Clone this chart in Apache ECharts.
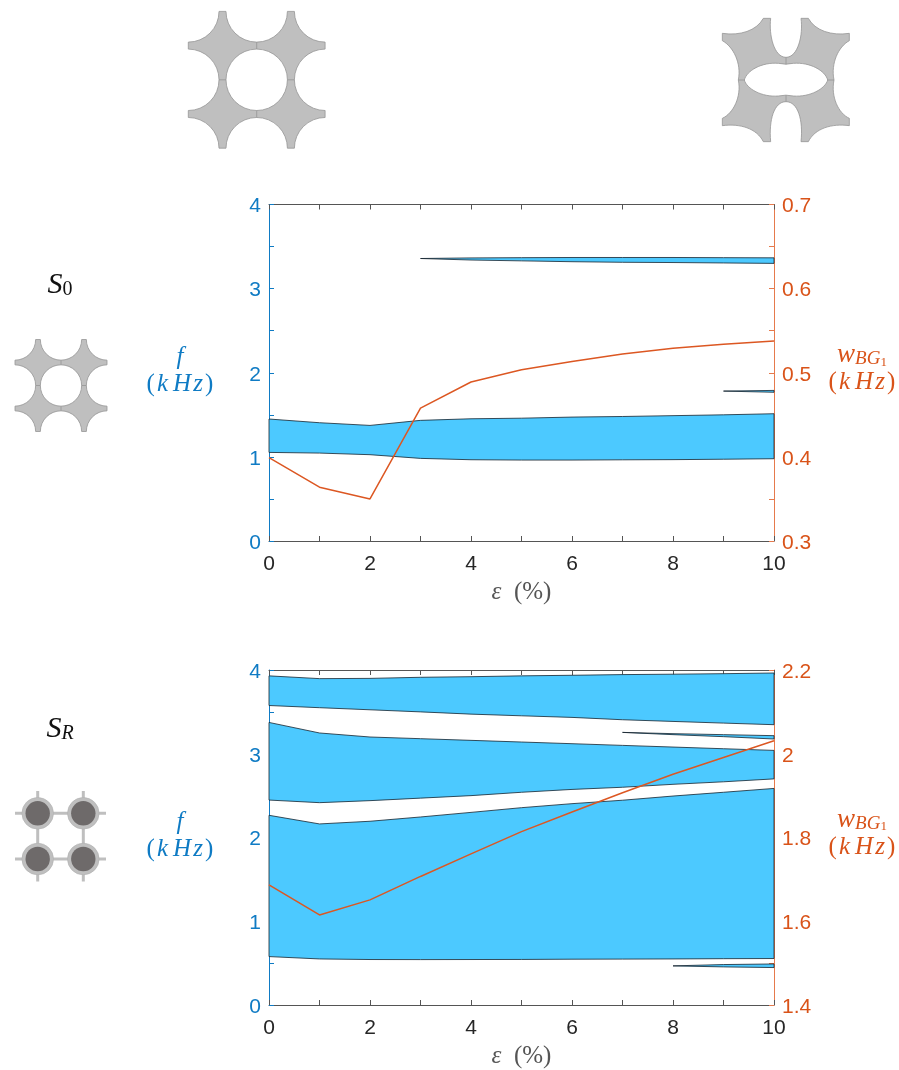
<!DOCTYPE html>
<html><head><meta charset="utf-8">
<style>html,body{margin:0;padding:0;background:#fff}#c{width:899px;height:1070px}</style>
<script src="https://cdn.jsdelivr.net/npm/echarts@6/dist/echarts.min.js"></script>
</head><body><div id="c"></div>
<script>
// ---- data ----
const strain = [0,1,2,3,4,5,6,7,8,9,10];

const s0MainLow  = [1.053,1.045,1.026,0.982,0.966,0.962,0.962,0.965,0.967,0.972,0.978];
const s0MainHigh = [1.45,1.406,1.374,1.434,1.453,1.46,1.473,1.48,1.49,1.50,1.513];
const s0TopX    = [3,4,5,6,7,8,9,10];
const s0TopLow  = [3.358,3.34,3.33,3.32,3.313,3.31,3.305,3.30];
const s0TopHigh = [3.358,3.365,3.368,3.37,3.37,3.37,3.368,3.366];
const s0MidX    = [9,10];
const s0MidLow  = [1.782,1.768];
const s0MidHigh = [1.782,1.79];
const s0Width   = [0.399,0.364,0.35,0.458,0.489,0.5036,0.5135,0.5222,0.529,0.534,0.5376];

const srBandALow  = [0.578,0.55,0.543,0.542,0.543,0.544,0.547,0.548,0.55,0.553,0.555];
const srBandAHigh = [2.265,2.162,2.194,2.245,2.30,2.356,2.404,2.445,2.495,2.54,2.586];
const srBandBLow  = [2.447,2.416,2.44,2.47,2.50,2.54,2.574,2.60,2.635,2.665,2.70];
const srBandBHigh = [3.374,3.248,3.2,3.18,3.16,3.14,3.12,3.10,3.08,3.06,3.04];
const srBandCLow  = [3.576,3.55,3.525,3.50,3.473,3.453,3.434,3.406,3.386,3.366,3.347];
const srBandCHigh = [3.93,3.897,3.90,3.913,3.92,3.93,3.937,3.945,3.95,3.956,3.964];
const srThinUpX    = [7,8,9,10];
const srThinUpLow  = [3.255,3.228,3.204,3.176];
const srThinUpHigh = [3.255,3.24,3.228,3.216];
const srThinLowX    = [8,9,10];
const srThinLowLow  = [0.467,0.455,0.447];
const srThinLowHigh = [0.467,0.483,0.49];
const srWidth = [1.687,1.615,1.651,1.707,1.761,1.814,1.861,1.907,1.951,1.991,2.031];

// ---- style ----
const BLUE='#0f7bc4', ORANGE='#d95319', BAND='#4cc9ff', EDGE='#15232e';
const SERIF='"Liberation Serif","DejaVu Serif",serif', SANS='"Liberation Sans",Arial,sans-serif';

function bandSeries(xs, lows, highs, g){
  return {
    type:'custom', xAxisIndex:g*2, yAxisIndex:g*2, z:2, silent:true, clip:false,
    encode:{x:0,y:[1,2]},
    data:xs.map((x,i)=>[x,lows[i],highs[i]]),
    renderItem(params, api){
      if(params.dataIndexInside!==xs.length-1) return null;
      const pts=[];
      xs.forEach((x,i)=>pts.push(api.coord([x,highs[i]])));
      for(let i=xs.length-1;i>=0;i--) pts.push(api.coord([xs[i],lows[i]]));
      return {type:'polygon',shape:{points:pts},style:{fill:BAND,stroke:EDGE,lineWidth:0.8}};
    }
  };
}
function widthSeries(vals,g){
  return {type:'line',xAxisIndex:g*2,yAxisIndex:g*2+1,z:5,data:strain.map((x,i)=>[x,vals[i]]),
    showSymbol:false,symbol:'none',lineStyle:{color:'#dc5722',width:1.5},silent:true};
}
const KHZ='{p|(}{k|\u200ak\u2009H\u200az\u200a}{p|)}';
const fRich={f:{fontFamily:SERIF,fontStyle:'italic',fontSize:25,color:BLUE,lineHeight:27,align:'center'},
  p:{fontFamily:SERIF,fontSize:25,color:BLUE,lineHeight:27},
  k:{fontFamily:SERIF,fontStyle:'italic',fontSize:25,color:BLUE,lineHeight:27}};
const wRich={w:{fontFamily:SERIF,fontStyle:'italic',fontSize:27,color:ORANGE,lineHeight:27},
  b:{fontFamily:SERIF,fontStyle:'italic',fontSize:19,color:ORANGE,lineHeight:22,verticalAlign:'bottom'},
  o:{fontFamily:SERIF,fontSize:13,color:ORANGE,lineHeight:18,verticalAlign:'bottom'},
  p:{fontFamily:SERIF,fontSize:25,color:ORANGE,lineHeight:27},
  k:{fontFamily:SERIF,fontStyle:'italic',fontSize:25,color:ORANGE,lineHeight:27}};
const eRich={e:{fontFamily:SERIF,fontStyle:'italic',fontSize:25,color:'#555'},
  p:{fontFamily:SERIF,fontSize:25,color:'#555'}};
const tick=c=>({t:{color:c,fontFamily:SANS,fontSize:21,padding:[4,0,0,0]}});

function xAxes(g){
  const base={type:'value',gridIndex:g,min:0,max:10,interval:1,splitLine:{show:false},
    axisLine:{onZero:false,lineStyle:{color:'#555',width:1}},
    axisTick:{inside:true,length:5,lineStyle:{color:'#555',width:1}}};
  return [
    Object.assign({},base,{position:'bottom',name:'{e|\u03b5}{p|\u2002(%)}',nameLocation:'middle',nameGap:39,
      nameTextStyle:{rich:eRich},
      axisLabel:{color:'#262626',fontFamily:SANS,fontSize:21,margin:13,hideOverlap:false,
        formatter:v=>v%2===0?String(v):''}}),
    Object.assign({},base,{position:'top',axisLabel:{show:false}})
  ];
}
function yAxes(g,rmin,rmax,rint,rfmt){
  return [
    {type:'value',gridIndex:g,position:'left',min:0,max:4,interval:0.5,splitLine:{show:false},
     axisLine:{onZero:false,lineStyle:{color:BLUE,width:1}},
     axisTick:{inside:true,length:5,lineStyle:{color:BLUE,width:1}},
     axisLabel:{margin:8,rich:tick(BLUE),formatter:v=>Number.isInteger(v)?'{t|'+v+'}':''},
     name:'{f|f}\n'+KHZ,nameLocation:'middle',nameRotate:0,nameGap:89,
     nameTextStyle:{rich:fRich,align:'center',verticalAlign:'middle',padding:[0,0,4,0]}},
    {type:'value',gridIndex:g,position:'right',min:rmin,max:rmax,interval:rint,splitLine:{show:false},
     axisLine:{onZero:false,lineStyle:{color:'#e67a4c',width:1}},
     axisTick:{inside:true,length:5,lineStyle:{color:'#e67a4c',width:1}},
     axisLabel:{margin:8,rich:tick(ORANGE),formatter:v=>{const s=rfmt(v);return s?'{t|'+s+'}':'';}},
     name:'{w|w}{b|BG}{o|1}\n'+KHZ,nameLocation:'middle',nameRotate:0,nameGap:88,
     nameTextStyle:{rich:wRich,align:'center',verticalAlign:'middle',padding:[0,0,8,0]}}
  ];
}

// ---- decorative unit-cell sketches ----
const GREY='#bfbfbf', OUT='#969696';
let shapeCount=0;
function pathEl(d,style){
  const name='cellShape'+(shapeCount++);
  echarts.graphic.registerShape(name, echarts.graphic.extendPath(d,{}));
  return {type:name,shape:{},style,silent:true};
}
function starCell(cx,cy,h){
  const r=0.449*h, P=(x,y)=>(cx+x*h).toFixed(2)+' '+(cy+y*h).toFixed(2), R=r.toFixed(2);
  const a=r/h, A=(x,y)=>`A${R} ${R} 0 0 0 ${P(x,y)}`;
  const d=`M${P(-1+a,-1)}L${P(-a,-1)}${A(a,-1)}L${P(1-a,-1)}${A(1,-1+a)}L${P(1,-a)}${A(1,a)}L${P(1,1-a)}${A(1-a,1)}`+
    `L${P(a,1)}${A(-a,1)}L${P(-1+a,1)}${A(-1,1-a)}L${P(-1,a)}${A(-1,-a)}L${P(-1,-1+a)}${A(-1+a,-1)}Z`;
  const ln=(x1,y1,x2,y2)=>({type:'line',shape:{x1:cx+x1*h,y1:cy+y1*h,x2:cx+x2*h,y2:cy+y2*h},style:{stroke:OUT,lineWidth:0.8},silent:true});
  return [
    pathEl(d,{fill:GREY,stroke:OUT,lineWidth:0.8}),
    {type:'circle',shape:{cx,cy,r},style:{fill:'#fff',stroke:OUT,lineWidth:0.8},silent:true},
    ln(0,-1+a,0,-a),ln(0,a,0,1-a),ln(-1+a,0,-a,0),ln(a,0,1-a,0)
  ];
}
function deformedCell(){
  const x0=710,s=1/3;
  const T=str=>str.replace(/(-?\d+(?:\.\d+)?),(-?\d+(?:\.\d+)?)/g,(m,a,b)=>(x0+a*s).toFixed(2)+' '+(b*s).toFixed(2));
  const o=T('M160,55 L182,55 C176,105 192,172 228,172 C264,172 280,105 273,55 L295,55 C315,92 365,108 418,100 L418,122 C385,140 362,190 372,240 C362,290 385,340 418,355 L418,377 C365,370 315,385 295,425 L273,425 C280,360 264,305 228,305 C192,305 176,360 182,425 L160,425 C140,385 90,370 37,377 L37,355 C70,340 95,290 85,240 C95,190 70,140 37,122 L37,100 C90,108 140,92 160,55 Z');
  const h=T('M103,240 C110,212 155,186 205,190 Q228,195 250,190 C300,186 346,212 353,240 C346,266 300,292 250,288 Q228,283 205,288 C155,292 110,266 103,240 Z');
  const ln=(a,b,c,d)=>({type:'line',shape:{x1:x0+a*s,y1:b*s,x2:x0+c*s,y2:d*s},style:{stroke:OUT,lineWidth:0.8},silent:true});
  return [
    pathEl(o,{fill:GREY,stroke:OUT,lineWidth:0.8}),
    pathEl(h,{fill:'#fff',stroke:OUT,lineWidth:0.8}),
    ln(228,172,228,193),ln(228,285,228,305),ln(85,240,103,240),ln(353,240,372,240)
  ];
}
function resonatorCell(){
  const xs=[37.7,83.3], ys=[813.3,859], els=[];
  const stub=(x1,y1,x2,y2)=>({type:'line',shape:{x1,y1,x2,y2},style:{stroke:GREY,lineWidth:3},silent:true});
  ys.forEach(y=>els.push(stub(15,y,106,y)));
  xs.forEach(x=>els.push(stub(x,791,x,881.5)));
  xs.forEach(x=>ys.forEach(y=>{
    els.push({type:'circle',shape:{cx:x,cy:y,r:15.8},style:{fill:GREY,stroke:'#b0b0b0',lineWidth:0.6},silent:true});
    els.push({type:'circle',shape:{cx:x,cy:y,r:12.2},style:{fill:'#6e6a6a'},silent:true});
  }));
  return els;
}
const sRich={s:{fontFamily:SERIF,fontStyle:'italic',fontSize:30,fill:'#111',lineHeight:30},
  u:{fontFamily:SERIF,fontSize:20,fill:'#111',lineHeight:24,verticalAlign:'bottom',padding:[8,0,0,0]},
  i:{fontFamily:SERIF,fontStyle:'italic',fontSize:20,fill:'#111',lineHeight:24,verticalAlign:'bottom',padding:[8,0,0,0]}};
const labels=[
  {type:'text',x:60,y:285,style:{text:'{s|S}{u|0}',rich:sRich,align:'center',verticalAlign:'middle'},silent:true},
  {type:'text',x:60,y:729,style:{text:'{s|S}{i|R}',rich:sRich,align:'center',verticalAlign:'middle'},silent:true}
];

const chart=echarts.init(document.getElementById('c'));
chart.setOption({
  animation:false, backgroundColor:'#fff',
  grid:[{left:269,top:204.5,width:505,height:336.5,containLabel:false},
        {left:269,top:670,width:505,height:336.5,containLabel:false}],
  xAxis:[...xAxes(0),...xAxes(1)],
  yAxis:[...yAxes(0,0.3,0.7,0.05,v=>Math.round(v*100)%10===0?v.toFixed(1):''),
         ...yAxes(1,1.4,2.2,0.1,v=>Math.round(v*10)%2===0?String(+v.toFixed(1)):'')],
  series:[
    bandSeries(strain,s0MainLow,s0MainHigh,0),
    bandSeries(s0TopX,s0TopLow,s0TopHigh,0),
    bandSeries(s0MidX,s0MidLow,s0MidHigh,0),
    widthSeries(s0Width,0),
    bandSeries(strain,srBandALow,srBandAHigh,1),
    bandSeries(strain,srBandBLow,srBandBHigh,1),
    bandSeries(strain,srBandCLow,srBandCHigh,1),
    bandSeries(srThinUpX,srThinUpLow,srThinUpHigh,1),
    bandSeries(srThinLowX,srThinLowLow,srThinLowHigh,1),
    widthSeries(srWidth,1)
  ],
  graphic:{elements:[
    ...starCell(256.7,79.8,68.4),
    ...deformedCell(),
    ...starCell(61,385.5,46),
    ...resonatorCell(),
    ...labels
  ]}
});
</script></body></html>
